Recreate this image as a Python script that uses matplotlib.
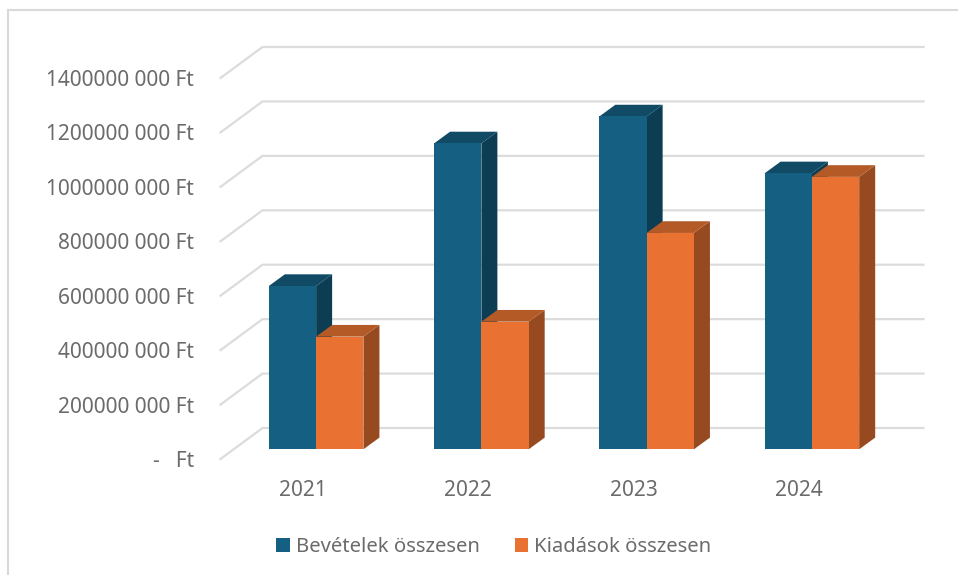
import matplotlib
matplotlib.use("Agg")
import matplotlib.pyplot as plt
from matplotlib.patches import Polygon, Rectangle
from matplotlib.ticker import FuncFormatter

years = ["2021", "2022", "2023", "2024"]
revenue = [600e6, 1124e6, 1223e6, 1014e6]
expenses = [414e6, 469e6, 795e6, 1001e6]
series_names = ["Bevételek összesen", "Kiadások összesen"]
y_ticks = [0, 200e6, 400e6, 600e6, 800e6, 1000e6, 1200e6, 1400e6]

W, H = 958, 575
plt.rcParams["font.family"] = ["Noto Sans", "DejaVu Sans"]
TXT = "#6b6b6b"
GRID = "#dcdcdc"
BLUE, BLUE_TOP, BLUE_SIDE = "#156082", "#104a64", "#0c3d53"
ORANGE, ORANGE_TOP, ORANGE_SIDE = "#e97132", "#b35a26", "#97491f"
FS = 15

fig = plt.figure(figsize=(W / 100, H / 100), dpi=100)
fig.add_artist(Rectangle((7.5 / W, -0.01), 2, 1.01 - 9.8 / H, transform=fig.transFigure,
                         fill=False, ec="#d9d9d9", lw=1.5))

# axes = front plane of the 3D chart
L, R, T, B = 220.5, 881.5, 78.0, 459.0
ax = fig.add_axes([L / W, 1 - B / H, (R - L) / W, (B - T) / H])
ax.patch.set_visible(False)
ax.set_xlim(-0.5, 3.5)
ax.set_ylim(0, 1400e6)
for s in ax.spines.values():
    s.set_visible(False)

px_x = 4 / (R - L)            # data units per pixel, x
px_y = 1400e6 / (B - T)       # data units per pixel, y


def yfmt(v, _):
    if v == 0:
        return "-   Ft"
    m = int(v // 1000000)
    return f"{m}000 000 Ft"


ax.set_yticks(y_ticks)
ax.yaxis.set_major_formatter(FuncFormatter(yfmt))
ax.set_xticks(range(len(years)))
ax.set_xticklabels(years)
ax.tick_params(axis="y", length=0, pad=19, labelsize=FS, labelcolor=TXT)
ax.tick_params(axis="x", length=0, pad=15, labelsize=FS, labelcolor=TXT)

# gridlines: front edge, diagonal to the back wall, along the back wall
wall_dx, wall_dy = 42 * px_x, 31 * px_y
for v in y_ticks:
    ax.plot([-0.5, -0.5 + wall_dx, 3.5 + wall_dx], [v, v + wall_dy, v + wall_dy],
            color=GRID, lw=1.6, clip_on=False, zorder=1, solid_joinstyle="miter")

# bars stand part-way between the front plane and the back wall
lift_x, lift_y = 13.0 * px_x, 9.7 * px_y
depth_x, depth_y = 16 * px_x, 11.7 * px_y
bw = 47.3 * px_x


def bar3d(left, val, front, top, side, z):
    x0 = left + lift_x
    x1 = x0 + bw
    y0 = lift_y
    y1 = val + lift_y
    ax.add_patch(Polygon([(x1, y0), (x1 + depth_x, y0 + depth_y),
                          (x1 + depth_x, y1 + depth_y), (x1, y1)],
                         fc=side, ec="none", zorder=z, clip_on=False))
    ax.add_patch(Polygon([(x0, y1), (x1, y1), (x1 + depth_x, y1 + depth_y),
                          (x0 + depth_x, y1 + depth_y)],
                         fc=top, ec="none", zorder=z, clip_on=False))
    return ax.bar(x0, val, bw, bottom=y0, align="edge", color=front, zorder=z + 0.1,
                  clip_on=False)


for i in range(len(years)):
    b1 = bar3d(i - bw, revenue[i], BLUE, BLUE_TOP, BLUE_SIDE, 2 + i)
    b2 = bar3d(i, expenses[i], ORANGE, ORANGE_TOP, ORANGE_SIDE, 2.5 + i)

leg = fig.legend([b1[0], b2[0]], series_names, loc="center", ncol=2,
                 bbox_to_anchor=(494 / W, 1 - 547 / H), frameon=False, fontsize=14.6,
                 labelcolor=TXT, handlelength=0.68, handleheight=0.68,
                 handletextpad=0.3, columnspacing=1.7, borderpad=0)

fig.savefig("out.png", dpi=100, facecolor="white")
